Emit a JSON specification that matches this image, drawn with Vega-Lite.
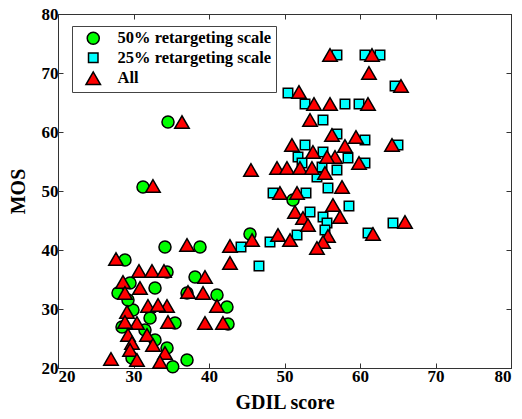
{
  "$schema": "https://vega.github.io/schema/vega-lite/v6.json",
  "width": 453,
  "height": 354,
  "autosize": "none",
  "padding": {"left": 58, "top": 14, "right": 11, "bottom": 51},
  "background": "white",
  "config": {
    "view": {"stroke": "#333333", "strokeWidth": 1},
    "font": "Liberation Serif",
    "axis": {
      "labelFont": "Liberation Serif",
      "labelFontWeight": "bold",
      "labelFontSize": 17,
      "labelColor": "black",
      "titleFont": "Liberation Serif",
      "titleFontWeight": "bold",
      "titleFontSize": 20,
      "titleColor": "black",
      "tickColor": "#333333",
      "domainColor": "#333333",
      "tickSize": -5,
      "labelPadding": 5,
      "grid": false
    },
    "legend": {
      "orient": "none",
      "legendX": 14,
      "legendY": 12,
      "title": null,
      "strokeColor": "#444444",
      "fillColor": "white",
      "padding": 4,
      "symbolOffset": 9,
      "labelOffset": 16,
      "labelFont": "Liberation Serif",
      "labelFontWeight": "bold",
      "labelFontSize": 16.5,
      "labelColor": "black",
      "rowPadding": 1.5,
      "symbolStrokeColor": "black",
      "symbolStrokeWidth": 1.5
    }
  },
  "data": {
    "values": [
      {"s": "50% retargeting scale", "x": 34.57, "y": 61.69},
      {"s": "50% retargeting scale", "x": 31.26, "y": 50.68},
      {"s": "50% retargeting scale", "x": 34.17, "y": 40.51},
      {"s": "50% retargeting scale", "x": 38.81, "y": 40.51},
      {"s": "50% retargeting scale", "x": 28.87, "y": 38.31},
      {"s": "50% retargeting scale", "x": 34.44, "y": 36.27},
      {"s": "50% retargeting scale", "x": 38.15, "y": 35.42},
      {"s": "50% retargeting scale", "x": 29.54, "y": 34.41},
      {"s": "50% retargeting scale", "x": 32.85, "y": 33.56},
      {"s": "50% retargeting scale", "x": 27.95, "y": 32.71},
      {"s": "50% retargeting scale", "x": 37.09, "y": 32.71},
      {"s": "50% retargeting scale", "x": 41.06, "y": 32.37},
      {"s": "50% retargeting scale", "x": 42.38, "y": 30.34},
      {"s": "50% retargeting scale", "x": 29.93, "y": 29.83},
      {"s": "50% retargeting scale", "x": 29.27, "y": 31.53},
      {"s": "50% retargeting scale", "x": 32.19, "y": 28.47},
      {"s": "50% retargeting scale", "x": 35.5, "y": 27.63},
      {"s": "50% retargeting scale", "x": 28.48, "y": 26.95},
      {"s": "50% retargeting scale", "x": 42.52, "y": 27.46},
      {"s": "50% retargeting scale", "x": 31.52, "y": 26.44},
      {"s": "50% retargeting scale", "x": 32.85, "y": 24.75},
      {"s": "50% retargeting scale", "x": 34.44, "y": 23.39},
      {"s": "50% retargeting scale", "x": 29.8, "y": 21.69},
      {"s": "50% retargeting scale", "x": 37.09, "y": 21.36},
      {"s": "50% retargeting scale", "x": 35.2, "y": 20.2},
      {"s": "50% retargeting scale", "x": 51.13, "y": 48.47},
      {"s": "50% retargeting scale", "x": 45.43, "y": 42.71},
      {"s": "25% retargeting scale", "x": 56.95, "y": 73.05},
      {"s": "25% retargeting scale", "x": 60.66, "y": 73.05},
      {"s": "25% retargeting scale", "x": 62.65, "y": 73.05},
      {"s": "25% retargeting scale", "x": 64.64, "y": 67.8},
      {"s": "25% retargeting scale", "x": 50.46, "y": 66.61},
      {"s": "25% retargeting scale", "x": 52.72, "y": 64.75},
      {"s": "25% retargeting scale", "x": 58.01, "y": 64.75},
      {"s": "25% retargeting scale", "x": 59.87, "y": 64.75},
      {"s": "25% retargeting scale", "x": 55.1, "y": 62.03},
      {"s": "25% retargeting scale", "x": 56.95, "y": 59.66},
      {"s": "25% retargeting scale", "x": 60.66, "y": 58.64},
      {"s": "25% retargeting scale", "x": 52.72, "y": 57.8},
      {"s": "25% retargeting scale", "x": 55.1, "y": 56.61},
      {"s": "25% retargeting scale", "x": 65.03, "y": 57.8},
      {"s": "25% retargeting scale", "x": 51.79, "y": 55.76},
      {"s": "25% retargeting scale", "x": 58.41, "y": 55.59},
      {"s": "25% retargeting scale", "x": 52.32, "y": 54.75},
      {"s": "25% retargeting scale", "x": 54.97, "y": 54.07},
      {"s": "25% retargeting scale", "x": 60.66, "y": 54.75},
      {"s": "25% retargeting scale", "x": 56.95, "y": 53.56},
      {"s": "25% retargeting scale", "x": 54.3, "y": 52.37},
      {"s": "25% retargeting scale", "x": 55.76, "y": 50.51},
      {"s": "25% retargeting scale", "x": 52.85, "y": 49.66},
      {"s": "25% retargeting scale", "x": 48.48, "y": 49.66},
      {"s": "25% retargeting scale", "x": 58.54, "y": 47.46},
      {"s": "25% retargeting scale", "x": 53.38, "y": 46.44},
      {"s": "25% retargeting scale", "x": 55.1, "y": 45.59},
      {"s": "25% retargeting scale", "x": 55.63, "y": 44.58},
      {"s": "25% retargeting scale", "x": 64.37, "y": 44.58},
      {"s": "25% retargeting scale", "x": 51.66, "y": 42.54},
      {"s": "25% retargeting scale", "x": 55.36, "y": 43.39},
      {"s": "25% retargeting scale", "x": 61.06, "y": 42.88},
      {"s": "25% retargeting scale", "x": 48.08, "y": 41.36},
      {"s": "25% retargeting scale", "x": 44.24, "y": 40.51},
      {"s": "25% retargeting scale", "x": 46.62, "y": 37.29},
      {"s": "All", "x": 56.03, "y": 73.05},
      {"s": "All", "x": 61.59, "y": 73.05},
      {"s": "All", "x": 61.19, "y": 70.0},
      {"s": "All", "x": 65.43, "y": 67.8},
      {"s": "All", "x": 51.92, "y": 66.78},
      {"s": "All", "x": 53.91, "y": 64.75},
      {"s": "All", "x": 56.03, "y": 64.75},
      {"s": "All", "x": 61.06, "y": 64.75},
      {"s": "All", "x": 53.38, "y": 62.03},
      {"s": "All", "x": 56.29, "y": 59.49},
      {"s": "All", "x": 59.47, "y": 59.15},
      {"s": "All", "x": 50.99, "y": 57.8},
      {"s": "All", "x": 53.77, "y": 56.61},
      {"s": "All", "x": 58.01, "y": 57.63},
      {"s": "All", "x": 64.24, "y": 57.8},
      {"s": "All", "x": 56.69, "y": 55.76},
      {"s": "All", "x": 55.63, "y": 55.76},
      {"s": "All", "x": 49.01, "y": 53.9},
      {"s": "All", "x": 50.33, "y": 53.9},
      {"s": "All", "x": 52.05, "y": 53.9},
      {"s": "All", "x": 53.64, "y": 53.9},
      {"s": "All", "x": 59.87, "y": 54.75},
      {"s": "All", "x": 55.36, "y": 53.05},
      {"s": "All", "x": 57.62, "y": 50.68},
      {"s": "All", "x": 49.4, "y": 49.66},
      {"s": "All", "x": 51.66, "y": 49.66},
      {"s": "All", "x": 56.42, "y": 47.63},
      {"s": "All", "x": 51.39, "y": 46.44},
      {"s": "All", "x": 52.45, "y": 45.42},
      {"s": "All", "x": 53.11, "y": 44.24},
      {"s": "All", "x": 57.35, "y": 45.59},
      {"s": "All", "x": 65.96, "y": 44.75},
      {"s": "All", "x": 49.14, "y": 42.54},
      {"s": "All", "x": 50.73, "y": 41.69},
      {"s": "All", "x": 55.76, "y": 42.37},
      {"s": "All", "x": 55.1, "y": 41.36},
      {"s": "All", "x": 54.3, "y": 40.34},
      {"s": "All", "x": 61.72, "y": 42.71},
      {"s": "All", "x": 45.7, "y": 41.69},
      {"s": "All", "x": 42.78, "y": 40.68},
      {"s": "All", "x": 42.78, "y": 37.8},
      {"s": "All", "x": 45.56, "y": 53.56},
      {"s": "All", "x": 36.42, "y": 61.69},
      {"s": "All", "x": 32.58, "y": 50.85},
      {"s": "All", "x": 37.09, "y": 40.85},
      {"s": "All", "x": 27.68, "y": 38.47},
      {"s": "All", "x": 30.73, "y": 36.44},
      {"s": "All", "x": 32.45, "y": 36.44},
      {"s": "All", "x": 34.04, "y": 36.44},
      {"s": "All", "x": 39.47, "y": 35.42},
      {"s": "All", "x": 28.61, "y": 34.58},
      {"s": "All", "x": 30.86, "y": 33.56},
      {"s": "All", "x": 28.87, "y": 32.71},
      {"s": "All", "x": 37.22, "y": 32.88},
      {"s": "All", "x": 39.21, "y": 32.71},
      {"s": "All", "x": 31.92, "y": 30.51},
      {"s": "All", "x": 34.44, "y": 30.51},
      {"s": "All", "x": 33.25, "y": 30.68},
      {"s": "All", "x": 29.14, "y": 29.49},
      {"s": "All", "x": 41.06, "y": 30.51},
      {"s": "All", "x": 30.46, "y": 27.63},
      {"s": "All", "x": 34.57, "y": 27.8},
      {"s": "All", "x": 39.47, "y": 27.63},
      {"s": "All", "x": 41.85, "y": 27.63},
      {"s": "All", "x": 28.87, "y": 27.8},
      {"s": "All", "x": 29.27, "y": 25.59},
      {"s": "All", "x": 31.79, "y": 25.59},
      {"s": "All", "x": 29.8, "y": 24.24},
      {"s": "All", "x": 32.58, "y": 23.9},
      {"s": "All", "x": 29.54, "y": 23.05},
      {"s": "All", "x": 34.17, "y": 22.54},
      {"s": "All", "x": 27.02, "y": 21.53},
      {"s": "All", "x": 30.46, "y": 21.36},
      {"s": "All", "x": 33.51, "y": 21.02}
    ]
  },
  "layer": [
    {
      "mark": {"type": "point", "filled": true, "stroke": "black", "strokeWidth": 1.5, "opacity": 1},
      "encoding": {
        "x": {"field": "x", "type": "quantitative", "scale": {"domain": [20, 80], "nice": false, "zero": false},
              "axis": {"orient": "bottom", "values": [20, 30, 40, 50, 60, 70, 80], "title": "GDIL score", "titlePadding": 8}},
        "y": {"field": "y", "type": "quantitative", "scale": {"domain": [20, 80], "nice": false, "zero": false},
              "axis": {"orient": "left", "values": [20, 30, 40, 50, 60, 70, 80], "title": "MOS", "titlePadding": 13}},
        "color": {"field": "s", "type": "nominal",
                  "scale": {"domain": ["50% retargeting scale", "25% retargeting scale", "All"], "range": ["#00ff00", "#00ffff", "#ff0000"]}},
        "shape": {"field": "s", "type": "nominal",
                  "scale": {"domain": ["50% retargeting scale", "25% retargeting scale", "All"], "range": ["circle", "square", "triangle-up"]}},
        "size": {"field": "s", "type": "nominal",
                 "scale": {"type": "ordinal", "domain": ["50% retargeting scale", "25% retargeting scale", "All"], "range": [145, 90, 210]}}
      }
    },
    {
      "mark": {"type": "point", "opacity": 0},
      "encoding": {
        "x": {"field": "x", "type": "quantitative", "scale": {"domain": [20, 80], "nice": false, "zero": false},
              "axis": {"orient": "top", "values": [20, 30, 40, 50, 60, 70, 80], "labels": false, "title": null}},
        "y": {"field": "y", "type": "quantitative", "scale": {"domain": [20, 80], "nice": false, "zero": false},
              "axis": {"orient": "right", "values": [20, 30, 40, 50, 60, 70, 80], "labels": false, "title": null}}
      }
    }
  ],
  "resolve": {"axis": {"x": "independent", "y": "independent"}}
}
